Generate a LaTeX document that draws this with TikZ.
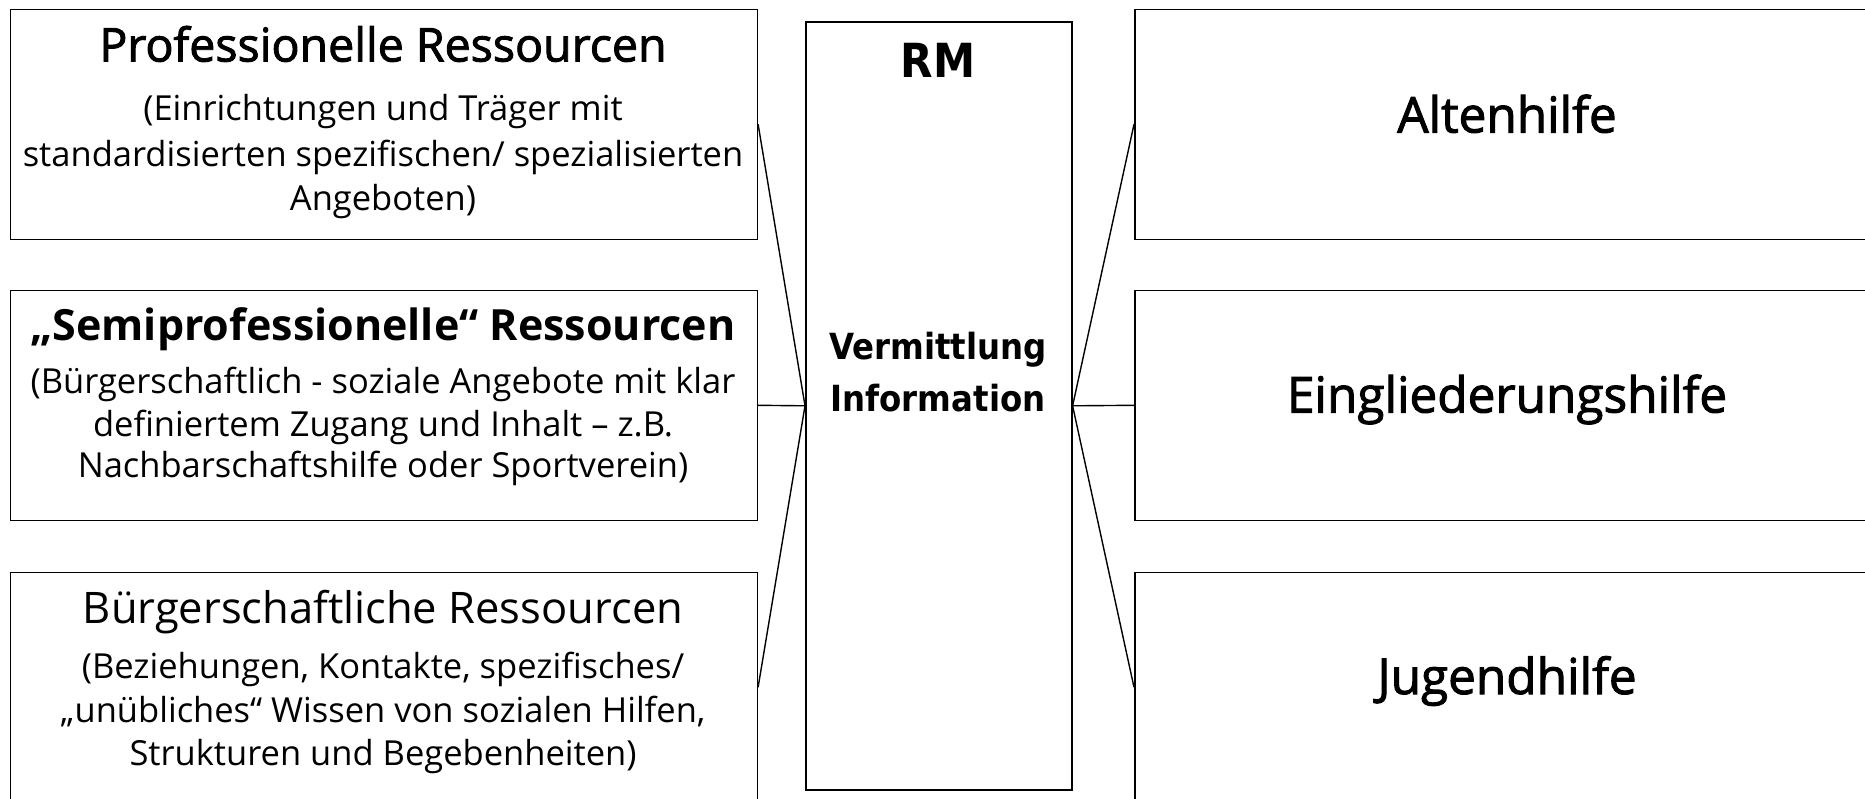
\documentclass[tikz,border=0pt]{standalone}
\usepackage{fontspec}
\setmainfont{Open Sans}
\newfontfamily\semib{Open Sans}[FakeBold=2]
\newfontfamily\condf{DejaVu Sans Condensed}
\begin{document}
\begin{tikzpicture}[x=1pt,y=-1pt,
  box/.style={draw, line width=1.6pt, minimum width=747pt, minimum height=230pt, anchor=north west, inner sep=0pt},
  midbox/.style={draw, line width=1.6pt, minimum width=266pt, minimum height=768pt, anchor=north west, inner sep=0pt},
  head/.style={anchor=base, inner sep=0pt, font=\fontsize{43.5}{50}\selectfont},
  sub/.style={anchor=base, inner sep=0pt, font=\fontsize{34.5}{40}\selectfont},
  rlab/.style={anchor=base, inner sep=0pt, font=\semib\fontsize{49.5}{56}\selectfont},
  conn/.style={line width=1.4pt}]
\useasboundingbox (0,0) rectangle (1865,798);
% left boxes
\node[box] (L1) at (9.5,8.5) {};
\node[box] (L2) at (9.5,289.5) {};
\node[box] (L3) at (9.5,571.5) {};
% middle box
\node[midbox] (M) at (805,21) {};
% right boxes
\node[box] (R1) at (1134,8.5) {};
\node[box] (R2) at (1134,289.5) {};
\node[box] (R3) at (1134,571.5) {};
% left texts
\node[head, font=\semib\fontsize{46.5}{52}\selectfont] (t1h) at (383,61.5) {Professionelle Ressourcen};
\node[sub] (t1a) at (383,120) {(Einrichtungen und Träger mit};
\node[sub] (t1b) at (383,166) {standardisierten spezifischen/ spezialisierten};
\node[sub] (t1c) at (383,210) {Angeboten)};
\node[head, font=\bfseries\fontsize{43}{50}\selectfont] (t2h) at (383,340) {„Semiprofessionelle“ Ressourcen};
\node[sub] (t2a) at (383,393) {(Bürgerschaftlich - soziale Angebote mit klar};
\node[sub] (t2b) at (383,436) {definiertem Zugang und Inhalt – z.B.};
\node[sub] (t2c) at (383,477) {Nachbarschaftshilfe oder Sportverein)};
\node[head] (t3h) at (383,623) {Bürgerschaftliche Ressourcen};
\node[sub] (t3a) at (383,678) {(Beziehungen, Kontakte, spezifisches/};
\node[sub] (t3b) at (383,722) {„unübliches“ Wissen von sozialen Hilfen,};
\node[sub] (t3c) at (383,765) {Strukturen und Begebenheiten)};
% middle texts
\node[anchor=base, inner sep=0pt, font=\condf\bfseries\fontsize{47}{52}\selectfont] (rm) at (938,77) {RM};
\node[anchor=base, inner sep=0pt, font=\condf\bfseries\fontsize{36}{40}\selectfont] (v1) at (938,359) {Vermittlung};
\node[anchor=base, inner sep=0pt, font=\condf\bfseries\fontsize{36}{40}\selectfont] (v2) at (938,411) {Information};
% right texts
\node[rlab] (a1) at (1507,132.5) {Altenhilfe};
\node[rlab] (a2) at (1507,412.5) {Eingliederungshilfe};
\node[rlab] (a3) at (1507,694) {Jugendhilfe};
% connectors
\draw[conn] (L1.east) -- (M.west);
\draw[conn] (L2.east) -- (M.west);
\draw[conn] (L3.east) -- (M.west);
\draw[conn] (M.east) -- (R1.west);
\draw[conn] (M.east) -- (R2.west);
\draw[conn] (M.east) -- (R3.west);
\end{tikzpicture}
\end{document}
